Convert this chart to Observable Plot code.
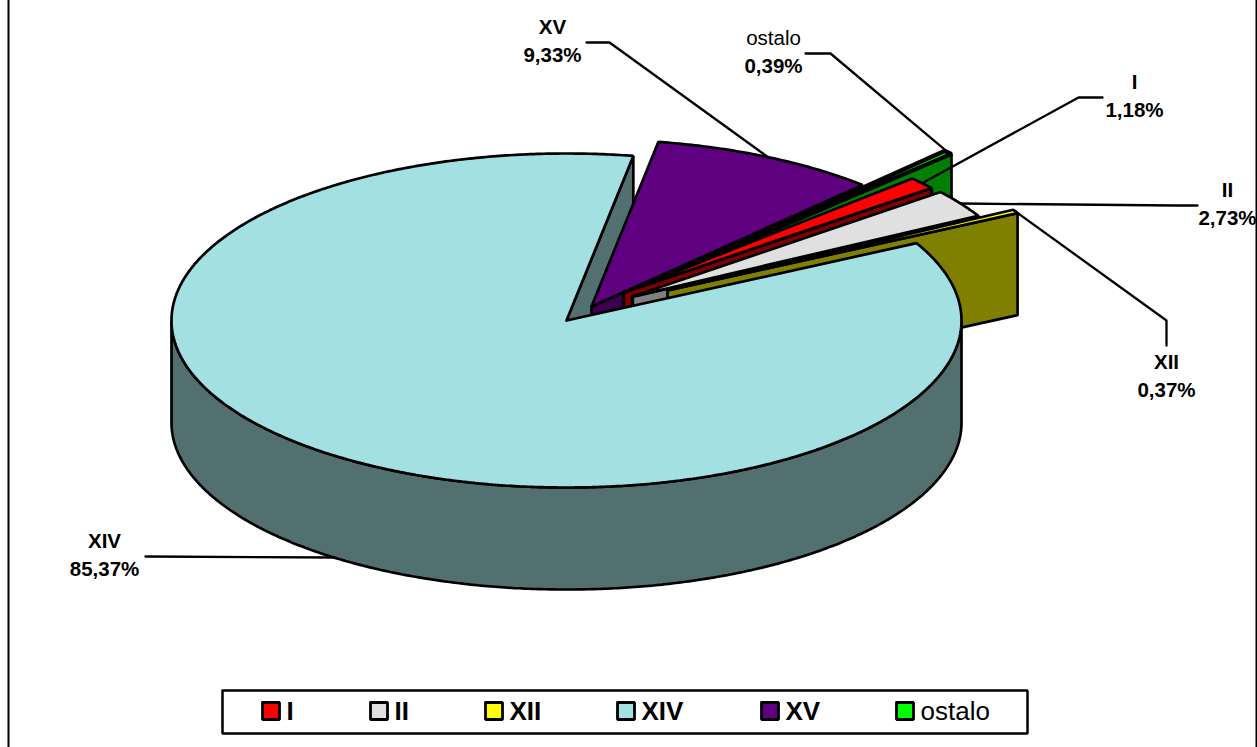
<!DOCTYPE html>
<html>
<head>
<meta charset="utf-8">
<script src="https://cdn.jsdelivr.net/npm/d3@7"></script>
<script src="https://cdn.jsdelivr.net/npm/@observablehq/plot@0.6"></script>
<style>
  html, body { margin: 0; padding: 0; background: #fff; overflow: hidden; }
  svg { display: block; }
</style>
</head>
<body>
<div id="chart"></div>
<script>
// Share of each category, in percent
const categories = ["I", "II", "XII", "XIV", "XV", "ostalo"];
const shares = [1.18, 2.73, 0.37, 85.37, 9.33, 0.39];
const shareLabels = ["1,18%", "2,73%", "0,37%", "85,37%", "9,33%", "0,39%"];

// Face colours of the wedges and their darker side walls
const topColors = ["#ff0000", "#e0e0e0", "#ffff00", "#a3e0e1", "#5f0080", "#00ff00"];
const wallColors = ["#800000", "#808080", "#808000", "#527070", "#3c0050", "#008000"];

// Pie layout: ellipse of the top face, extrusion, and wedge displacement
const W = 1257, H = 747;
const cx = 566, cy = 320, rx = 395, ry = 167, depth = 102;
const firstAngle = 47;
const offsets = {
  "I": [57, -28], "II": [66, -24], "XII": [101, -30],
  "XIV": [0, 0], "XV": [25, -14], "ostalo": [107, -48]
};
// Outline weights: the narrowest wedges close up into heavy black bands
const faceStroke = {"ostalo": 4.2};
const wallStroke = {"I": 3.4, "II": 3.4};
// Label placement: text centre, elbow and start of each leader line
const labelLayout = {
  "I":      {x: 1134, y: 82,  elbow: [[1102, 97], [1078, 97]]},
  "II":     {x: 1227, y: 190, elbow: [[1197, 205], [1175, 205]]},
  "XII":    {x: 1166, y: 362, elbow: [[1166, 345], [1166, 320]]},
  "XIV":    {x: 104,  y: 541, elbow: [[145, 556]]},
  "XV":     {x: 552,  y: 27,  elbow: [[586, 42], [609, 42]]},
  "ostalo": {x: 773,  y: 38,  elbow: [[805, 53], [830, 53]]}
};
// Legend swatch and label columns
const legendX = [262, 370, 485, 617, 761, 896];

const rad = d => d * Math.PI / 180;
const onRim = (a, o = [0, 0], drop = 0) => ({
  x: cx + o[0] + rx * Math.sin(rad(a)),
  y: cy + o[1] - ry * Math.cos(rad(a)) + drop
});
const arc = (a0, a1, o, drop) => {
  const n = Math.max(2, Math.ceil(Math.abs(a1 - a0) * 2));
  return d3.range(n + 1).map(i => onRim(a0 + (a1 - a0) * i / n, o, drop));
};

// Wedge angles follow the percentages clockwise from the first angle
let running = firstAngle;
const wedges = categories.map((name, i) => {
  const start = running;
  running += shares[i] * 3.6;
  return {name, i, start, end: running, mid: (start + running) / 2, o: offsets[name]};
});
const byName = Object.fromEntries(wedges.map(w => [w.name, w]));

const shape = (points, fill, strokeWidth = 2.7) => Plot.line(points, {
  x: "x", y: "y", fill, stroke: "#000", strokeWidth,
  strokeLinejoin: "miter", curve: "linear"
});
const closed = pts => [...pts, pts[0]];

const apex = (w, drop = 0) => ({x: cx + w.o[0], y: cy + w.o[1] + drop});
const radialWall = w => closed([apex(w), onRim(w.end, w.o), onRim(w.end, w.o, depth), apex(w, depth)]);
const topFace = w => closed([apex(w), ...arc(w.start, w.end, w.o)]);

const marks = [];

// Inner wall of the large wedge, seen through the gap left by the others
const big = byName["XIV"];
marks.push(shape(radialWall(big), wallColors[big.i]));

// Displaced wedges, back to front
for (const name of ["XV", "ostalo", "I", "II", "XII"]) {
  const w = byName[name];
  marks.push(shape(radialWall(w), wallColors[w.i], wallStroke[name]));
  marks.push(shape(topFace(w), topColors[w.i], faceStroke[name]));
}

// Rim wall and top face of the large wedge
marks.push(shape(closed([...arc(90, 270, [0, 0]), ...arc(270, 90, [0, 0], depth)]), wallColors[big.i]));
marks.push(shape(topFace(big), topColors[big.i]));

// Leader lines run from the label elbows to the middle of each wedge's rim
for (const w of wedges) {
  const drop = w.name === "XIV" ? depth : 0;
  const pts = [...labelLayout[w.name].elbow.map(([x, y]) => ({x, y})), onRim(w.mid, w.o, drop)];
  marks.push(Plot.line(pts, {x: "x", y: "y", stroke: "#000", strokeWidth: 2.3, curve: "linear"}));
}

// Data labels: category name above its percentage
const labelRows = wedges.flatMap(w => {
  const l = labelLayout[w.name];
  return [
    {x: l.x, y: l.y, text: w.name, weight: w.name === "ostalo" ? "normal" : "bold"},
    {x: l.x, y: l.y + 28, text: shareLabels[w.i], weight: "bold"}
  ];
});
for (const weight of ["normal", "bold"]) {
  marks.push(Plot.text(labelRows.filter(d => d.weight === weight), {
    x: "x", y: "y", text: "text", fontWeight: weight, fontSize: 20.5,
    fontFamily: "Liberation Sans", fill: "#000", textAnchor: "middle", lineAnchor: "middle"
  }));
}

// Legend box, swatches and entries
marks.push(shape(closed([{x: 222, y: 690}, {x: 1027, y: 690}, {x: 1027, y: 733}, {x: 222, y: 733}]), "#fff", 2.5));
categories.forEach((name, i) => {
  const x0 = legendX[i];
  marks.push(shape(closed([{x: x0, y: 702}, {x: x0 + 17, y: 702}, {x: x0 + 17, y: 719}, {x: x0, y: 719}]), topColors[i], 2.8));
  marks.push(Plot.text([{x: x0 + 24, y: 711, text: name}], {
    x: "x", y: "y", text: "text", fontSize: 26, fontFamily: "Liberation Sans",
    fontWeight: name === "ostalo" ? "normal" : "bold",
    fill: "#000", textAnchor: "start", lineAnchor: "middle"
  }));
});

// Outer frame of the chart area
marks.push(Plot.ruleX([8, 1256], {stroke: "#000", strokeWidth: 2}));

const chart = Plot.plot({
  width: W, height: H,
  marginTop: 0, marginRight: 0, marginBottom: 0, marginLeft: 0,
  style: {background: "#fff", overflow: "hidden"},
  x: {type: "linear", domain: [0, W], range: [0, W], axis: null},
  y: {type: "linear", domain: [0, H], range: [0, H], axis: null},
  marks
});
document.getElementById("chart").append(chart);
</script>
</body>
</html>
